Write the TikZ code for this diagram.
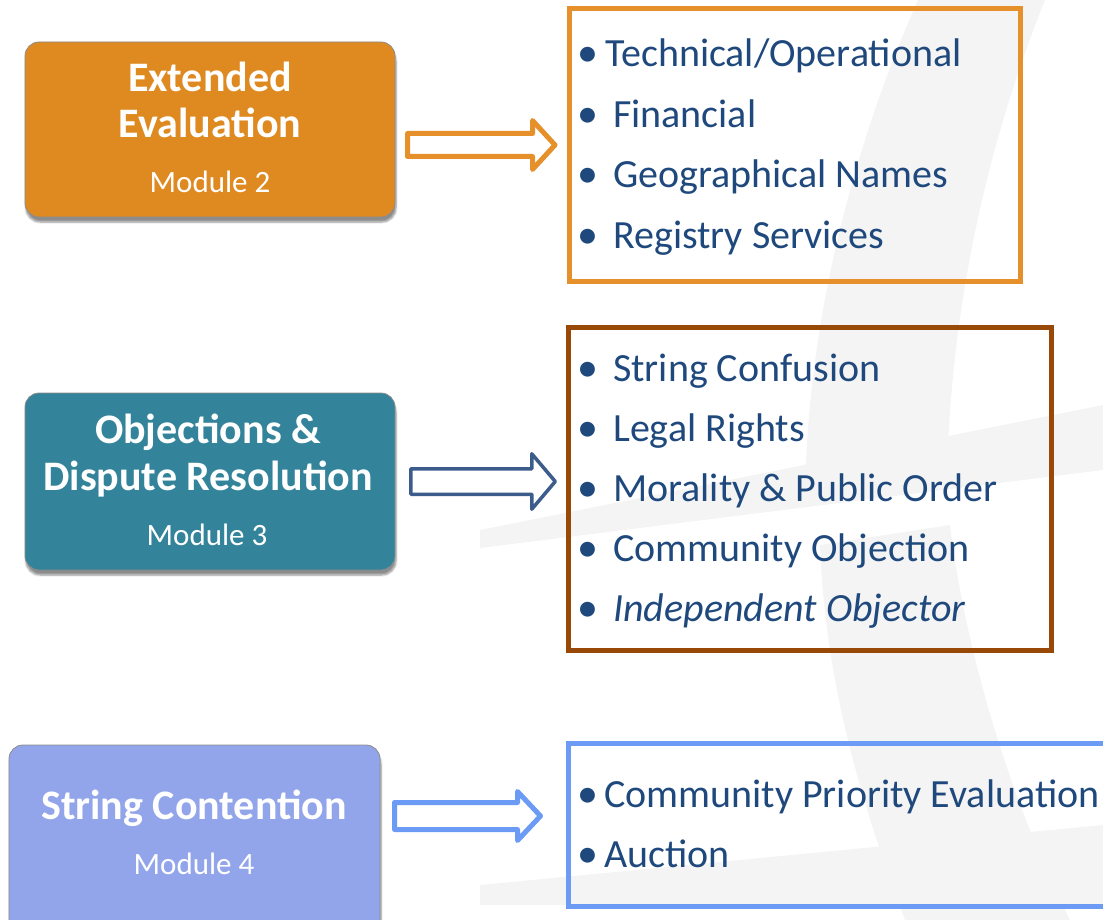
\documentclass[tikz,border=0pt]{standalone}
\usepackage{fontspec}
\setmainfont{Carlito}
\usetikzlibrary{shadows,shadows.blur,calc}
\definecolor{orangeF}{HTML}{DF8A21}
\definecolor{tealF}{HTML}{33849A}
\definecolor{periF}{HTML}{92A5EA}
\definecolor{orangeL}{HTML}{E5902A}
\definecolor{navyL}{HTML}{3C5C8C}
\definecolor{brownL}{HTML}{984807}
\definecolor{skyL}{HTML}{6B9BF5}
\definecolor{txtblue}{HTML}{1F497D}
\definecolor{wmgrey}{HTML}{F4F4F4}
\newcommand\blockarr[6]{%
  \draw[#1] let \p1=(#2), \p2=(#3) in
    (\x1,\y1+#4pt) -- (\x2-#6pt,\y1+#4pt) -- (\x2-#6pt,\y1+#5pt) -- (\x2,\y1)
    -- (\x2-#6pt,\y1-#5pt) -- (\x2-#6pt,\y1-#4pt) -- (\x1,\y1-#4pt) -- cycle;}
\begin{document}
\begin{tikzpicture}[x=1pt,y=-1pt,
  modbox/.style={draw=black!45, line width=0.8pt, rounded corners=14pt, inner sep=0pt,
    blur shadow={shadow xshift=1pt, shadow yshift=-5pt, shadow blur steps=6, shadow opacity=45}},
  ttl/.style={anchor=base, inner sep=0pt, text=white, font=\fontsize{42}{46}\bfseries\selectfont},
  sub/.style={anchor=base, inner sep=0pt, text=white, font=\fontsize{31}{36}\selectfont},
  listbox/.style={line width=5pt, inner sep=0pt},
  item/.style={anchor=base west, inner sep=0pt, text=txtblue, font=\fontsize{40}{47}\selectfont},
  bul/.style={anchor=base, inner sep=0pt, text=txtblue, font=\fontsize{42}{47}\selectfont},
  barrow/.style={fill=white, line join=round},
  wm/.style={fill=wmgrey}
]
\useasboundingbox (0,0) rectangle (1103,920);
\clip (0,0) rectangle (1103,920);
% faint watermark
\fill[wm] (918,0) -- (1045,0) .. controls (985,150) and (955,300) .. (948,445)
  -- (806,465) .. controls (812,300) and (860,130) .. (918,0) -- cycle;
\fill[wm] (820,545) -- (950,525) .. controls (965,650) and (1010,800) .. (1070,920)
  -- (905,920) .. controls (860,800) and (825,680) .. (820,545) -- cycle;
\fill[wm] (480,530) -- (1103,405) -- (1103,470) -- (480,548) -- cycle;
\fill[wm] (480,885) -- (1103,825) -- (1103,905) -- (480,905) -- cycle;

% module boxes
\node[modbox, fill=orangeF, minimum width=370pt, minimum height=175pt] (b1) at (210,129.5) {};
\node[modbox, fill=tealF, minimum width=370pt, minimum height=177pt] (b2) at (210,481.5) {};
\node[modbox, fill=periF, minimum width=371pt, minimum height=190pt] (b3) at (194.5,840) {};

\node[ttl] (t1a) at (210,92) {Extended};
\node[ttl] (t1b) at (210,138) {Evaluation};
\node[sub] (t1c) at (210,193) {Module 2};
\node[ttl] (t2a) at (208,443) {Objections \&};
\node[ttl] (t2b) at (208,490) {Dispute Resolution};
\node[sub] (t2c) at (207,545) {Module 3};
\node[ttl] (t3a) at (194,819) {String Contention};
\node[sub] (t3c) at (194,874) {Module 4};

% list boxes
\node[listbox, draw=orangeL, minimum width=451pt, minimum height=273pt] (r1) at (795,145) {};
\node[listbox, draw=brownL, minimum width=483pt, minimum height=323pt] (r2) at (810,489) {};
\node[listbox, draw=skyL, minimum width=552pt, minimum height=163pt] (r3) at (844.5,825) {};

% arrows
\coordinate (a1s) at (407.5,145);  \coordinate (a1e) at (555,145);
\coordinate (a2s) at (410.75,481.5); \coordinate (a2e) at (555.25,481.5);
\coordinate (a3s) at (394.5,816);  \coordinate (a3e) at (540.5,816);
\blockarr{barrow, draw=orangeL, line width=5pt}{a1s}{a1e}{11.5}{24.5}{22.5}
\blockarr{barrow, draw=navyL, line width=3.5pt}{a2s}{a2e}{12.75}{27.75}{23.5}
\blockarr{barrow, draw=skyL, line width=5pt}{a3s}{a3e}{13.5}{24.5}{23}

% items box 1
\node[bul] (p11) at (588,67) {•};
\node[item] (i11) at (605,67) {Technical/Operational};
\node[bul] (p12) at (588,128) {•};
\node[item] (i12) at (613,128) {Financial};
\node[bul] (p13) at (588,188) {•};
\node[item] (i13) at (613,188) {Geographical Names};
\node[bul] (p14) at (588,248) {•};
\node[item] (i14) at (613,248) {Registry Services};
% items box 2
\node[bul] (p21) at (588,381) {•};
\node[item] (i21) at (613,381) {String Confusion};
\node[bul] (p22) at (588,441) {•};
\node[item] (i22) at (613,441) {Legal Rights};
\node[bul] (p23) at (588,501) {•};
\node[item] (i23) at (613,501) {Morality \& Public Order};
\node[bul] (p24) at (588,561) {•};
\node[item] (i24) at (613,561) {Community Objection};
\node[bul] (p25) at (588,621) {•};
\node[item] (i25) at (613,621) {\itshape Independent Objector};
% items box 3
\node[bul] (p31) at (588,807) {•};
\node[item] (i31) at (604,807) {Community Priority Evaluation};
\node[bul] (p32) at (588,867) {•};
\node[item] (i32) at (604,867) {Auction};
\end{tikzpicture}
\end{document}
